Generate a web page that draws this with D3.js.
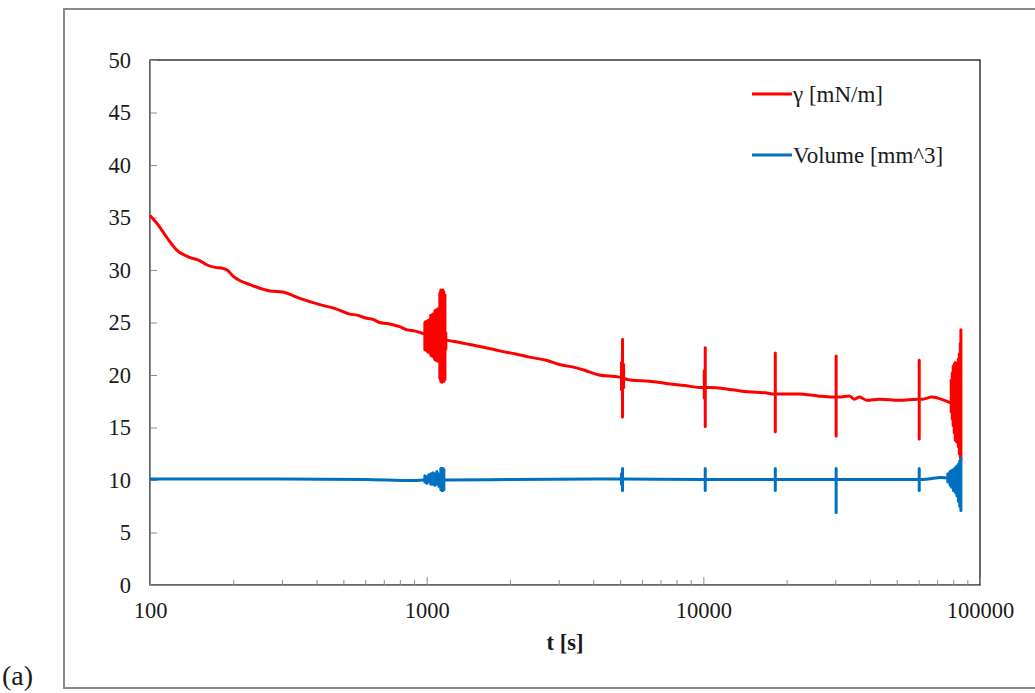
<!DOCTYPE html>
<html>
<head>
<meta charset="utf-8">
<script src="https://cdn.jsdelivr.net/npm/d3@7"></script>
<style>
  body { margin: 0; background: #fff; }
  text { font-family: 'Liberation Serif', 'Times New Roman', serif; fill: #1a1a1a; }
</style>
</head>
<body>
<div id="chart"></div>
<script>
// surface tension trend (t [s], gamma [mN/m])
const gammaT = [100, 107, 115, 125, 139, 151, 160, 172, 181, 190, 200, 211, 230, 271, 302, 348, 411, 470, 527, 560,
  607, 640, 676, 720, 798, 850, 903, 985, 1193, 1316, 1430, 1640, 1837, 2100, 2355, 2700, 3020, 3450, 3873, 4204,
  4969, 5275, 5511, 6390, 7340, 8530, 9890, 10500, 12670, 14500, 16790, 17820, 18780, 22200, 26000, 29250, 31000, 33700, 35200, 36700,
  38900, 43400, 51200, 59400, 62000, 67000, 74000, 79000]
const gammaV = [35.2, 34.3, 33.1, 31.9, 31.2, 30.9, 30.5, 30.25, 30.2, 30.0, 29.4, 29.0, 28.6, 28.0, 27.9, 27.3, 26.7, 26.3, 25.8, 25.7,
  25.4, 25.3, 25.0, 24.9, 24.6, 24.3, 24.2, 23.9, 23.3, 23.1, 22.9, 22.6, 22.3, 22.0, 21.7, 21.4, 21.0, 20.7, 20.3, 20.0,
  19.8, 19.6, 19.5, 19.4, 19.2, 19.0, 18.8, 18.8, 18.6, 18.4, 18.3, 18.2, 18.2, 18.2, 18.0, 17.9, 17.9, 18.0, 17.7, 17.9,
  17.6, 17.7, 17.6, 17.7, 17.7, 17.9, 17.6, 17.3]

// oscillation ranges of gamma (time, max, min)
const gammaBurstT = [985, 993, 1001, 1010, 1018, 1027, 1035, 1044, 1053, 1062, 1070, 1079, 1088, 1098, 1107,
  1116, 1125, 1135, 1144, 1154, 1164, 1173,
  5060, 5105, 5150, 10080, 10160, 18200, 30200, 60300,
  78700, 79400, 80000, 80700, 81400, 82100, 82800, 83500, 84200, 84900, 85300]
const gammaBurstHi = [25.0, 25.1, 24.9, 25.2, 25.0, 25.3, 25.7, 25.6, 25.8, 25.7, 26.1, 26.2, 26.0, 26.3, 26.2,
  27.8, 28.1, 28.0, 28.1, 27.9, 27.6, 24.0,
  21.2, 23.4, 21.0, 20.4, 22.6, 22.1, 21.8, 21.4,
  19.5, 20.2, 20.8, 21.0, 21.2, 21.1, 21.0, 21.5, 22.0, 23.0, 24.3]
const gammaBurstLo = [22.4, 22.5, 22.3, 22.2, 22.4, 22.1, 21.9, 21.8, 21.9, 21.7, 21.5, 21.4, 21.6, 21.3, 21.4,
  19.7, 19.4, 19.3, 19.5, 19.4, 19.6, 22.5,
  18.6, 16.0, 18.8, 17.8, 15.1, 14.6, 14.2, 13.9,
  16.5, 15.8, 15.2, 14.5, 13.8, 13.7, 13.6, 13.2, 12.5, 12.2, 11.9]

// drop volume trend (t [s], V [mm^3])
const volT = [100, 300, 600, 900, 985, 1193, 2000, 5000, 10000, 20000, 40000, 60000, 65000, 72000, 78000]
const volV = [10.1, 10.1, 10.05, 9.95, 10.0, 10.0, 10.05, 10.1, 10.05, 10.05, 10.05, 10.05, 10.1, 10.25, 10.2]

// oscillation ranges of volume
const volBurstT = [985, 1001, 1018, 1035, 1053, 1070, 1088, 1107, 1125, 1135, 1144, 1154,
  5060, 5105, 10160, 18200, 30200, 60300,
  76500, 78000, 79000, 80200, 81500, 82500, 83500, 84500, 85300]
const volBurstHi = [10.4, 10.3, 10.5, 10.6, 10.7, 10.6, 10.8, 10.6, 11.1, 11.1, 11.1, 11.0,
  10.6, 11.1, 11.1, 11.1, 11.1, 11.1,
  10.6, 10.8, 10.9, 11.0, 11.2, 11.3, 11.5, 11.8, 12.1]
const volBurstLo = [9.8, 9.7, 9.8, 9.6, 9.6, 9.5, 9.6, 9.4, 9.1, 9.0, 9.0, 9.1,
  9.6, 9.0, 9.0, 9.0, 6.9, 9.0,
  9.8, 9.5, 9.3, 9.0, 8.8, 8.5, 8.0, 7.5, 7.1]

const yTicks = [0, 5, 10, 15, 20, 25, 30, 35, 40, 45, 50]
const xMajorTicks = [100, 1000, 10000, 100000]
const xMinorTicks = [200, 300, 400, 500, 600, 700, 800, 900,
  2000, 3000, 4000, 5000, 6000, 7000, 8000, 9000,
  20000, 30000, 40000, 50000, 60000, 70000, 80000, 90000]

const seriesNames = ['γ [mN/m]', 'Volume [mm^3]']
const seriesColors = ['#ff0000', '#0070c0']

const width = 1035
const height = 693
const plot = { left: 150, right: 980, top: 60, bottom: 585 }

const svg = d3
  .select('#chart')
  .append('svg')
  .attr('width', width)
  .attr('height', height)

// outer chart frame (right edge runs off the picture)
svg
  .append('rect')
  .attr('x', 64)
  .attr('y', 9)
  .attr('width', 1100)
  .attr('height', 679)
  .attr('fill', 'none')
  .attr('stroke', '#8a8a8a')
  .attr('stroke-width', 2)

svg
  .append('text')
  .text('(a)')
  .attr('x', 2)
  .attr('y', 685)
  .attr('font-size', 28)

const xPositionScale = d3.scaleLog().domain([100, 100000]).range([plot.left, plot.right])
const yPositionScale = d3.scaleLinear().domain([0, 50]).range([plot.bottom, plot.top])

// plot area border
svg
  .append('rect')
  .attr('x', plot.left)
  .attr('y', plot.top)
  .attr('width', plot.right - plot.left)
  .attr('height', plot.bottom - plot.top)
  .attr('fill', 'none')
  .attr('stroke', '#000')
  .attr('stroke-width', 1.2)

const yAxis = d3
  .axisLeft(yPositionScale)
  .tickValues(yTicks)
  .tickSizeInner(-7)
  .tickSizeOuter(0)
  .tickPadding(19)

svg
  .append('g')
  .attr('class', 'axis y-axis')
  .attr('transform', `translate(${plot.left},0)`)
  .call(yAxis)

const xMinorAxis = d3
  .axisBottom(xPositionScale)
  .tickValues(xMinorTicks)
  .tickSizeInner(-5)
  .tickSizeOuter(0)
  .tickFormat('')

svg
  .append('g')
  .attr('class', 'axis x-axis minor')
  .attr('transform', `translate(0,${plot.bottom})`)
  .call(xMinorAxis)

const xAxis = d3
  .axisBottom(xPositionScale)
  .tickValues(xMajorTicks)
  .tickSizeInner(-8)
  .tickSizeOuter(0)
  .tickPadding(17)
  .tickFormat(d3.format('d'))

svg
  .append('g')
  .attr('class', 'axis x-axis')
  .attr('transform', `translate(0,${plot.bottom})`)
  .call(xAxis)

svg.selectAll('.axis path, .axis line').attr('stroke', '#8c8c8c')
svg.selectAll('.axis text')
  .attr('font-size', 22.5)
  .attr('font-family', "'Liberation Serif', 'Times New Roman', serif")
  .attr('fill', '#1a1a1a')

svg
  .append('text')
  .text('t [s]')
  .attr('x', 565)
  .attr('y', 650)
  .attr('text-anchor', 'middle')
  .attr('font-size', 22.5)
  .attr('font-weight', 'bold')

const line = d3
  .line()
  .x(d => xPositionScale(d[0]))
  .y(d => yPositionScale(d[1]))
  .curve(d3.curveMonotoneX)

function drawSeries(ts, vs, bt, bh, bl, color) {
  svg
    .append('path')
    .datum(d3.zip(ts, vs))
    .attr('d', line)
    .attr('fill', 'none')
    .attr('stroke', color)
    .attr('stroke-width', 3)
    .attr('stroke-linejoin', 'round')

  svg
    .append('g')
    .selectAll('line')
    .data(d3.zip(bt, bh, bl))
    .enter()
    .append('line')
    .attr('x1', d => xPositionScale(d[0]))
    .attr('x2', d => xPositionScale(d[0]))
    .attr('y1', d => yPositionScale(d[1]))
    .attr('y2', d => yPositionScale(d[2]))
    .attr('stroke', color)
    .attr('stroke-width', 3)
    .attr('stroke-linecap', 'round')
}

drawSeries(gammaT, gammaV, gammaBurstT, gammaBurstHi, gammaBurstLo, seriesColors[0])
drawSeries(volT, volV, volBurstT, volBurstHi, volBurstLo, seriesColors[1])

// legend
const legend = svg
  .append('g')
  .selectAll('g')
  .data(seriesNames)
  .enter()
  .append('g')
  .attr('transform', (d, i) => `translate(752,${94 + i * 61})`)

legend
  .append('line')
  .attr('x1', 0)
  .attr('x2', 40)
  .attr('stroke', (d, i) => seriesColors[i])
  .attr('stroke-width', 3)

legend
  .append('text')
  .text(d => d)
  .attr('x', 41)
  .attr('y', 8)
  .attr('font-size', 23)
</script>
</body>
</html>
